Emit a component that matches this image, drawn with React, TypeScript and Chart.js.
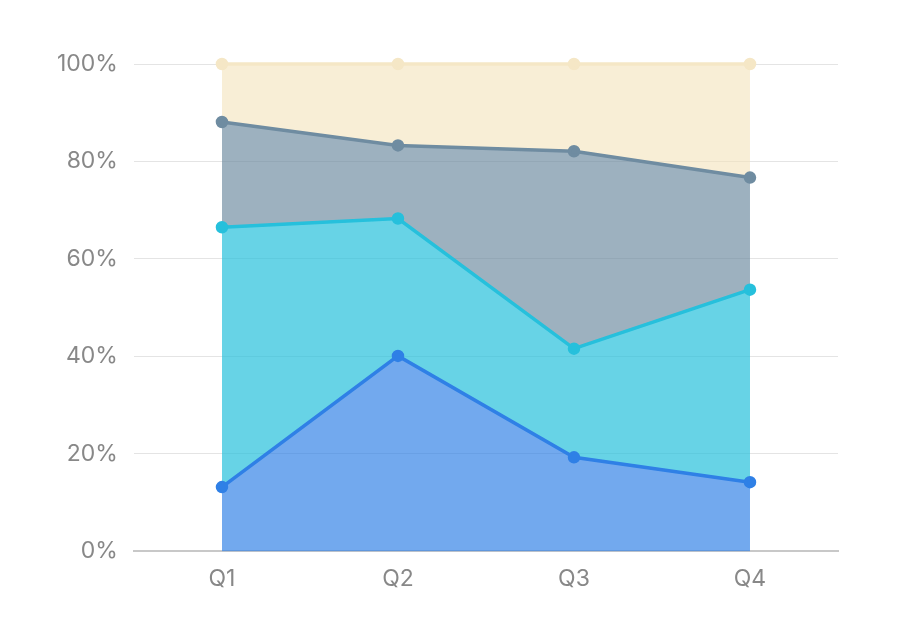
import React, { useEffect, useRef } from "react";
import { Chart, registerables } from "chart.js";

Chart.register(...registerables);

const categories = ["Q1", "Q2", "Q3", "Q4"];
const seriesA = [13.2, 40.1, 19.3, 14.2];
const seriesB = [53.3, 28.2, 22.3, 39.5];
const seriesC = [21.6, 15.0, 40.5, 23.0];
const seriesD = [11.9, 16.7, 17.9, 23.3];
const yTicks = [0, 20, 40, 60, 80, 100];

export default function App() {
  const ref = useRef<HTMLCanvasElement | null>(null);
  useEffect(() => {
    if (!ref.current) return;
    const mk = (label: string, data: number[], line: string, fillc: string, fill: any) => ({
      label,
      data,
      borderColor: line,
      backgroundColor: fillc,
      pointBackgroundColor: line,
      pointBorderColor: line,
      pointRadius: 4.5,
      borderWidth: 3.5,
      fill,
      tension: 0,
      clip: false as any,
    });
    const chart = new Chart(ref.current, {
      type: "line",
      data: {
        labels: categories,
        datasets: [
          mk("A", seriesA, "#2f80e6", "rgba(47,128,230,0.68)", "origin"),
          mk("B", seriesB, "#26c0dc", "rgba(38,192,220,0.7)", "-1"),
          mk("C", seriesC, "#6f8ca1", "rgba(111,140,161,0.68)", "-1"),
          mk("D", seriesD, "#f5e7c6", "rgba(243,226,186,0.6)", "-1"),
        ],
      },
      options: {
        animation: false,
        responsive: true,
        maintainAspectRatio: false,
        layout: { padding: { left: 33, right: 54, top: 56, bottom: 27 } },
        plugins: { legend: { display: false }, tooltip: { enabled: false } },
        scales: {
          x: {
            offset: true,
            grid: { display: false, drawTicks: false },
            border: { display: true, color: "#c8c8c8", width: 2 },
            ticks: { color: "#888", font: { family: "Inter", size: 23 }, padding: 14 },
          },
          y: {
            stacked: true,
            min: 0,
            max: 100,
            afterBuildTicks: (axis: any) => {
              axis.ticks = yTicks.map((v) => ({ value: v }));
            },
            grid: { color: "#e4e4e4", lineWidth: 1, drawTicks: false },
            border: { display: false },
            ticks: {
              color: "#888",
              font: { family: "Inter", size: 23 },
              padding: 16,
              callback: (v: any) => v + "%",
            },
          },
        },
      },
    });
    return () => chart.destroy();
  }, []);
  return (
    <div style={{ width: 884, height: 626 }}>
      <canvas ref={ref} />
    </div>
  );
}
